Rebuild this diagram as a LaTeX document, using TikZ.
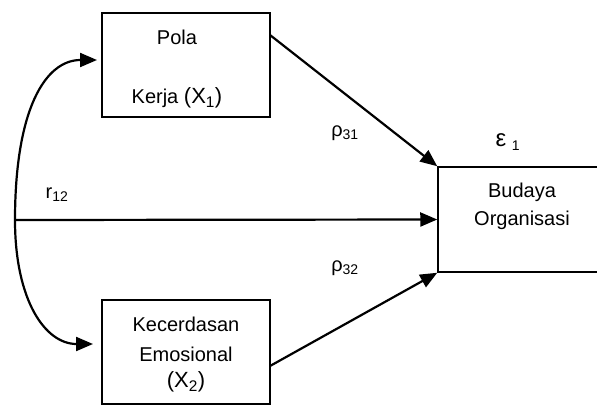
\documentclass[tikz,border=0pt]{standalone}
\usepackage{fontspec}
\setmainfont{Liberation Sans}
\usetikzlibrary{arrows.meta}
\begin{document}
\begin{tikzpicture}[x=1pt,y=-1pt,
  box/.style={draw,line width=1.5pt,minimum width=168pt,minimum height=104pt,inner sep=0pt},
  lbl/.style={font=\fontsize{20}{24}\selectfont,inner sep=0pt},
  conn/.style={line width=2.2pt,-{Triangle[length=17pt,width=14pt]}}]
\useasboundingbox (0,0) rectangle (597,405);
\clip (0,0) rectangle (597,405);
\node[box] (b1) at (186,65) {};
\node[box] (b2) at (186,352) {};
\node[box,minimum width=200pt,minimum height=105pt] (b3) at (538,219.5) {};
\coordinate (c) at (15,220);
\coordinate (s1) at (270,35);
\coordinate (s2) at (270,366);
\coordinate (t1) at (97,60);
\coordinate (t2) at (93,344);
\node[lbl] (pola) at (177,37) {Pola};
\node[lbl] (kerja) at (177,98) {Kerja {\fontsize{22}{24}\selectfont(X\textsubscript{1})}};
\node[lbl] (kec) at (186,324) {Kecerdasan};
\node[lbl] (emo) at (186,354) {Emosional};
\node[lbl] (x2) at (186,382) {\fontsize{22}{24}\selectfont(X\textsubscript{2})};
\node[lbl] (bud) at (522,192) {Budaya};
\node[lbl] (org) at (522,220) {Organisasi};
\node[lbl] (p31) at (345,133) {ρ\textsubscript{31}};
\node[lbl] (p32) at (345,268) {ρ\textsubscript{32}};
\node[lbl] (eps) at (508,142) {{\fontsize{24}{26}\selectfont ε} \textsubscript{1}};
\node[lbl] (r12) at (57,195) {r\textsubscript{12}};
\draw[conn] (s1) -- (b3.north west);
\draw[conn] (s2) -- (b3.south west);
\draw[conn] (c) -- (b3.west);
\draw[conn] (c) .. controls (15,110) and (45,60) .. (t1);
\draw[conn] (c) .. controls (15,300) and (45,344) .. (t2);
\end{tikzpicture}
\end{document}
